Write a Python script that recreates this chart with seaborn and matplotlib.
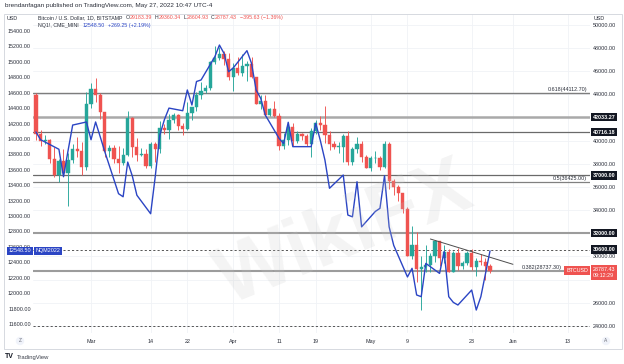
import numpy as np
import pandas as pd
import matplotlib
matplotlib.use("Agg")
import matplotlib.pyplot as plt
import matplotlib.dates as mdates
from matplotlib.patches import Rectangle
import seaborn as sns

# ------------------------------------------------------------------ data
btc_first_day = "2022-02-17"
btc_last_day = "2022-05-27"
btc_open = [43900, 40550, 40000, 40100, 38400, 37050, 38250, 37250, 38350, 39250,
            39120, 37700, 43180, 44420, 43920, 42450, 39150, 39400, 38420, 38060,
            38740, 41980, 39440, 38730, 38810, 37790, 39670, 39280, 41120, 40920,
            41760, 42200, 41260, 41000, 42370, 42890, 43960, 44330, 44540, 46830,
            47130, 47450, 47070, 45530, 46290, 45820, 46410, 46580, 45500, 43170,
            43440, 42250, 42760, 42160, 39530, 40080, 41150, 39940, 40550, 40400,
            39700, 40800, 41500, 41370, 40480, 39700, 39450, 39450, 40430, 38120,
            39240, 39740, 38600, 37630, 38470, 38520, 37720, 39690, 36550, 36020,
            35470, 34060, 30080, 31020, 28930, 29050, 29290, 30080, 31300, 29870,
            30430, 28700, 30300, 29180, 29430, 30280, 29100, 29650, 29530, 29183.39]
btc_high = [44150, 40950, 40450, 40150, 39450, 38450, 39250, 38950, 39700, 40300,
            39850, 44200, 44950, 45400, 44100, 42500, 39600, 39650, 39500, 39350,
            42600, 42050, 40250, 39350, 39300, 39900, 39850, 41700, 41450, 42300,
            42400, 42300, 41550, 43350, 42900, 44200, 45100, 44800, 46900, 48200,
            48100, 47700, 47600, 46700, 47200, 47450, 46850, 47200, 45500, 43900,
            43950, 42800, 43400, 42400, 40700, 41550, 41500, 40850, 40700, 40600,
            41100, 41750, 42150, 42950, 40800, 39950, 39900, 40600, 40800, 39450,
            40350, 39950, 38800, 38650, 39150, 38650, 40000, 39850, 36650, 36150,
            35500, 34250, 32650, 32150, 30000, 30950, 30300, 31450, 31300, 31000,
            30650, 30500, 30700, 29600, 30450, 30650, 29850, 30200, 29850, 29360.34]
btc_low = [40100, 39500, 39700, 38050, 36850, 36400, 37050, 34350, 38050, 38600,
           37050, 37500, 42850, 43350, 41850, 38600, 38600, 38100, 37200, 37900,
           38650, 38600, 38250, 38650, 37600, 37600, 38150, 38900, 40550, 40150,
           41500, 40950, 40500, 40900, 41800, 42600, 43600, 44100, 44400, 46650,
           46950, 46550, 45200, 44300, 45650, 45550, 45150, 45400, 43150, 42750,
           42150, 42150, 42000, 39200, 39250, 39600, 39550, 39800, 40050, 39550,
           38550, 40600, 40900, 39800, 39200, 39300, 38950, 38200, 37900, 37900,
           38900, 38200, 37600, 37400, 38050, 37500, 37650, 35850, 35300, 34800,
           33750, 30000, 29750, 27800, 25350, 28700, 28650, 29500, 29200, 29450,
           28650, 28650, 28800, 28950, 29250, 28850, 28300, 29300, 28000, 28604.93]
btc_close = [40550, 40000, 40100, 38400, 37050, 38250, 37250, 38350, 39250, 39120,
             37700, 43180, 44420, 43920, 42450, 39150, 39400, 38420, 38060, 38740,
             41980, 39440, 38730, 38810, 37790, 39670, 39280, 41120, 40920, 41760,
             42200, 41260, 41000, 42370, 42890, 43960, 44330, 44540, 46830, 47130,
             47450, 47070, 45530, 46290, 45820, 46410, 46580, 45500, 43170, 43440,
             42250, 42760, 42160, 39530, 40080, 41150, 39940, 40550, 40400, 39700,
             40800, 41500, 41370, 40480, 39700, 39450, 39450, 40430, 38120, 39240,
             39740, 38600, 37630, 38470, 38520, 37720, 39690, 36550, 36020, 35470,
             34060, 30080, 31020, 28930, 29050, 29290, 30080, 31300, 29870, 30430,
             28700, 30300, 29180, 29430, 30280, 29100, 29650, 29530, 29180, 28787.43]
btc_change = "\u2212395.63 (\u22121.36%)"

nq_dates = ["2022-02-17", "2022-02-18", "2022-02-22", "2022-02-23", "2022-02-24",
            "2022-02-25", "2022-02-28", "2022-03-01", "2022-03-02", "2022-03-03",
            "2022-03-04", "2022-03-07", "2022-03-08", "2022-03-09", "2022-03-10",
            "2022-03-11", "2022-03-14", "2022-03-15", "2022-03-16", "2022-03-17",
            "2022-03-18", "2022-03-21", "2022-03-22", "2022-03-23", "2022-03-24",
            "2022-03-25", "2022-03-28", "2022-03-29", "2022-03-30", "2022-03-31",
            "2022-04-01", "2022-04-04", "2022-04-05", "2022-04-06", "2022-04-07",
            "2022-04-08", "2022-04-11", "2022-04-12", "2022-04-13", "2022-04-14",
            "2022-04-18", "2022-04-19", "2022-04-20", "2022-04-21", "2022-04-22",
            "2022-04-25", "2022-04-26", "2022-04-27", "2022-04-28", "2022-04-29",
            "2022-05-02", "2022-05-03", "2022-05-04", "2022-05-05", "2022-05-06",
            "2022-05-09", "2022-05-10", "2022-05-11", "2022-05-12", "2022-05-13",
            "2022-05-16", "2022-05-17", "2022-05-18", "2022-05-19", "2022-05-20",
            "2022-05-23", "2022-05-24", "2022-05-25", "2022-05-26", "2022-05-27"]
nq_close = [14090, 13990, 13866, 13510, 13850, 14180, 14220, 13990, 14220, 14030,
            13835, 13290, 13250, 13700, 13520, 13270, 13030, 13510, 14050, 14250,
            14400, 14366, 14635, 14440, 14745, 14765, 15067, 15218, 15110, 14872,
            14920, 15145, 14980, 14635, 14527, 14310, 14008, 13940, 14216, 13900,
            13900, 14203, 13980, 13727, 13360, 13532, 13013, 12990, 13445, 12860,
            13060, 13100, 13523, 12860, 12620, 12210, 12322, 11976, 11954, 12386,
            12256, 12540, 11954, 11880, 11846, 12040, 11781, 11954, 12250, 12548.50]
nq_change = "+269.25 (+2.19%)"

fib_ratios = ["0.618", "0.5", "0.382"]
fib_prices = [44112.70, 36425.00, 28737.30]
marked_prices = [42033.27, 40716.18, 37000.00, 32000.00, 30600.00]
dashed_prices = [30600.00, 24000.00]
trend_dates = ["2022-05-14", "2022-06-01"]
trend_prices = [31510, 29326]

right_ticks = [24000, 26000, 30000, 34000, 36000, 38000, 40000, 44000, 46000, 48000, 50000]
grid_prices = list(range(24000, 50001, 2000))
left_ticks = list(range(11600, 15401, 200))
time_tick_dates = ["2022-03-01", "2022-03-14", "2022-03-22", "2022-04-01", "2022-04-11",
                   "2022-04-19", "2022-05-01", "2022-05-09", "2022-05-23", "2022-06-01",
                   "2022-06-13"]
time_tick_labels = ["Mar", "14", "22", "Apr", "11", "19", "May", "9", "23", "Jun", "13"]

# ------------------------------------------------------------------ style
sns.set_theme(style="white")
plt.rcParams["font.family"] = ["Liberation Sans", "DejaVu Sans"]

W, H = 624, 364
fig = plt.figure(figsize=(W / 100, H / 100), dpi=100)
fig.patch.set_facecolor("white")

L, R, T, B = 33, 590, 14, 333
ax = fig.add_axes([L / W, 1 - B / H, (R - L) / W, (B - T) / H])
ax2 = ax.twinx()

UP, DN = "#26a69a", "#ef5350"
BLUE = "#2b45c4"
TXT = "#2a2e39"
FS = 3.9

dates = pd.date_range(btc_first_day, btc_last_day, freq="D")
df = pd.DataFrame({"date": dates, "open": btc_open, "high": btc_high,
                   "low": btc_low, "close": btc_close})
df["up"] = df["close"] >= df["open"]
df["color"] = np.where(df["up"], UP, DN)
df["bottom"] = df[["open", "close"]].min(axis=1)
df["height"] = (df["close"] - df["open"]).abs().clip(lower=50)

# grid
for p in grid_prices:
    ax.axhline(p, color="#f0f2f6", lw=0.6, zorder=0)
for d in time_tick_dates:
    ax.axvline(pd.Timestamp(d), color="#f0f2f6", lw=0.6, zorder=0)

# candles
ax.vlines(df["date"], df["low"], df["high"], colors=df["color"], lw=0.65, zorder=2)
ax.bar(df["date"], df["height"], bottom=df["bottom"], width=0.7,
       color=df["color"], edgecolor=df["color"], linewidth=0.3, zorder=3)

# level lines
level_style = {
    44112.70: dict(color="#7d7d7d", lw=1.0),
    42033.27: dict(color="#a9a9a9", lw=1.8),
    40716.18: dict(color="#6a6a6a", lw=0.9),
    37000.00: dict(color="#6a6a6a", lw=0.9),
    36425.00: dict(color="#808080", lw=0.9),
    32000.00: dict(color="#9c9c9c", lw=1.5),
    28737.30: dict(color="#9c9c9c", lw=1.5),
}
for p in fib_prices + marked_prices:
    if p in dashed_prices:
        continue
    ax.axhline(p, zorder=1, **level_style[p])
for p in dashed_prices:
    ax.axhline(p, color="#555555", lw=0.7, ls=(0, (2.2, 2.2)), zorder=1)

# trend line
ax.plot(pd.to_datetime(trend_dates), trend_prices, color="#4d4d4d", lw=0.7, zorder=4)

# NQ line (comparison symbol)
nq = pd.DataFrame({"date": pd.to_datetime(nq_dates), "close": nq_close})
sns.lineplot(data=nq, x="date", y="close", ax=ax2, color=BLUE, lw=1.0,
             estimator=None, zorder=5)

# limits
x0 = pd.Timestamp(btc_first_day)
ax.set_xlim(mdates.date2num(x0) - 0.65, mdates.date2num(x0) + 120.8)
ax.set_ylim(23395, 50935)
ax2.set_ylim(11483, 15620.5)

# axes cosmetics
for a in (ax, ax2):
    for s in a.spines.values():
        s.set_visible(False)
    a.set_xlabel("")
    a.set_ylabel("")
ax.yaxis.tick_right()
ax.set_yticks(right_ticks)
ax.set_yticklabels([f"{v:.2f}" for v in right_ticks])
ax.tick_params(axis="y", length=0, pad=2.2, labelsize=FS, labelcolor=TXT)
ax2.yaxis.tick_left()
ax2.set_yticks(left_ticks)
ax2.set_yticklabels([f"{v:.2f}" for v in left_ticks])
ax2.tick_params(axis="y", length=0, pad=1.5, labelsize=FS, labelcolor=TXT,
                labelleft=True, labelright=False)
ax.set_xticks(pd.to_datetime(time_tick_dates))
ax.set_xticklabels(time_tick_labels)
ax.tick_params(axis="x", length=0, pad=4.5, labelsize=FS, labelcolor=TXT)
ax2.tick_params(axis="x", length=0)

# fib labels (the lowest one sits left of the BTCUSD tag)
fib_offsets = [-2, -2, -20]
for r, p, off in zip(fib_ratios, fib_prices, fib_offsets):
    ax.annotate(f"{r}({p:.2f})", xy=(1, p), xycoords=("axes fraction", "data"),
                xytext=(off, 0.8), textcoords="offset points", ha="right", va="bottom",
                fontsize=FS, color=TXT, zorder=6, annotation_clip=False)

# right price boxes
for p in marked_prices:
    ax.annotate(f"{p:.2f}", xy=(1, p), xycoords=("axes fraction", "data"),
                xytext=(2.2, 0), textcoords="offset points", ha="left", va="center",
                fontsize=FS, color="white", fontweight="bold", zorder=8,
                bbox=dict(boxstyle="square,pad=0.3", fc="#131722", ec="none"),
                annotation_clip=False)
ax.annotate(f"{btc_close[-1]:.2f}\n09:12:29", xy=(1, btc_close[-1]),
            xycoords=("axes fraction", "data"), xytext=(2.2, 2.6),
            textcoords="offset points", ha="left", va="top", fontsize=FS,
            color="white", linespacing=1.25, zorder=8,
            bbox=dict(boxstyle="square,pad=0.3", fc=DN, ec="none"),
            annotation_clip=False)
ax.annotate("BTCUSD", xy=(1, btc_close[-1]), xycoords=("axes fraction", "data"),
            xytext=(-1.5, 0), textcoords="offset points", ha="right", va="center",
            fontsize=FS, color="white", zorder=8,
            bbox=dict(boxstyle="square,pad=0.3", fc=DN, ec="none"),
            annotation_clip=False)

# left price boxes (NQ)
ax2.annotate(f"{nq_close[-1]:.2f}", xy=(0, nq_close[-1]), xycoords=("axes fraction", "data"),
             xytext=(-1.2, 0), textcoords="offset points", ha="right", va="center",
             fontsize=FS, color="white", zorder=8,
             bbox=dict(boxstyle="square,pad=0.3", fc=BLUE, ec="none"),
             annotation_clip=False)
ax2.annotate("NQM2022", xy=(0, nq_close[-1]), xycoords=("axes fraction", "data"),
             xytext=(1.6, 0), textcoords="offset points", ha="left", va="center",
             fontsize=FS, color="white", zorder=8,
             bbox=dict(boxstyle="square,pad=0.3", fc=BLUE, ec="none"),
             annotation_clip=False)

# frame
fig.add_artist(Rectangle((4 / W, 1 - 349 / H), 618 / W, 335 / H, transform=fig.transFigure,
                         fill=False, ec="#d6d9e0", lw=0.7))

# header texts
def fx(px):
    return px / W

def fy(py):
    return 1 - py / H

fig.text(fx(5), fy(6), "brendanfagan published on TradingView.com, May 27, 2022 10:47 UTC-4",
         fontsize=4.6, color=TXT, va="center", ha="left")
fig.text(fx(7), fy(18), "USD", fontsize=FS, color=TXT, va="center", ha="left")
fig.text(fx(594), fy(18), "USD", fontsize=FS, color=TXT, va="center", ha="left")

renderer = fig.canvas.get_renderer()

def seq_text(x_px, y_px, pieces, fs):
    x = x_px
    for s, col, gap in pieces:
        t = fig.text(fx(x), fy(y_px), s, color=col, fontsize=fs, va="center", ha="left")
        x += t.get_window_extent(renderer=renderer).width + gap

seq_text(38, 17.5, [("Bitcoin / U.S. Dollar, 1D, BITSTAMP", TXT, 3),
                    ("O", TXT, 0.3), (f"{btc_open[-1]:.2f}", DN, 2.5),
                    ("H", TXT, 0.3), (f"{btc_high[-1]:.2f}", DN, 2.5),
                    ("L", TXT, 0.3), (f"{btc_low[-1]:.2f}", DN, 2.5),
                    ("C", TXT, 0.3), (f"{btc_close[-1]:.2f}", DN, 2.5),
                    (btc_change, DN, 0)], 3.8)
seq_text(38, 25.5, [("NQ1!, CME_MINI", TXT, 4), (f"{nq_close[-1]:.2f}", BLUE, 3),
                    (nq_change, BLUE, 0)], 3.8)

# bottom icons / logo
fig.text(fx(20), fy(341), "Z", fontsize=3.5, color="#6a6d78", ha="center", va="center",
         bbox=dict(boxstyle="circle,pad=0.35", fc="#f0f3fa", ec="none"))
fig.text(fx(606), fy(341), "A", fontsize=3.5, color="#6a6d78", ha="center", va="center",
         bbox=dict(boxstyle="circle,pad=0.35", fc="#f0f3fa", ec="none"))
fig.text(fx(5), fy(357), "TV", fontsize=5, fontweight="heavy", color="#131722",
         ha="left", va="center")
fig.text(fx(17), fy(357), "TradingView", fontsize=4.2, color="#3a3e49", ha="left", va="center")

# watermark
fig.text(fx(345), fy(235), "WikiFX", fontsize=58, fontweight="bold", color="#c8c8c8",
         alpha=0.2, rotation=22, ha="center", va="center", zorder=20)

fig.savefig("out.png", dpi=100, facecolor="white")
